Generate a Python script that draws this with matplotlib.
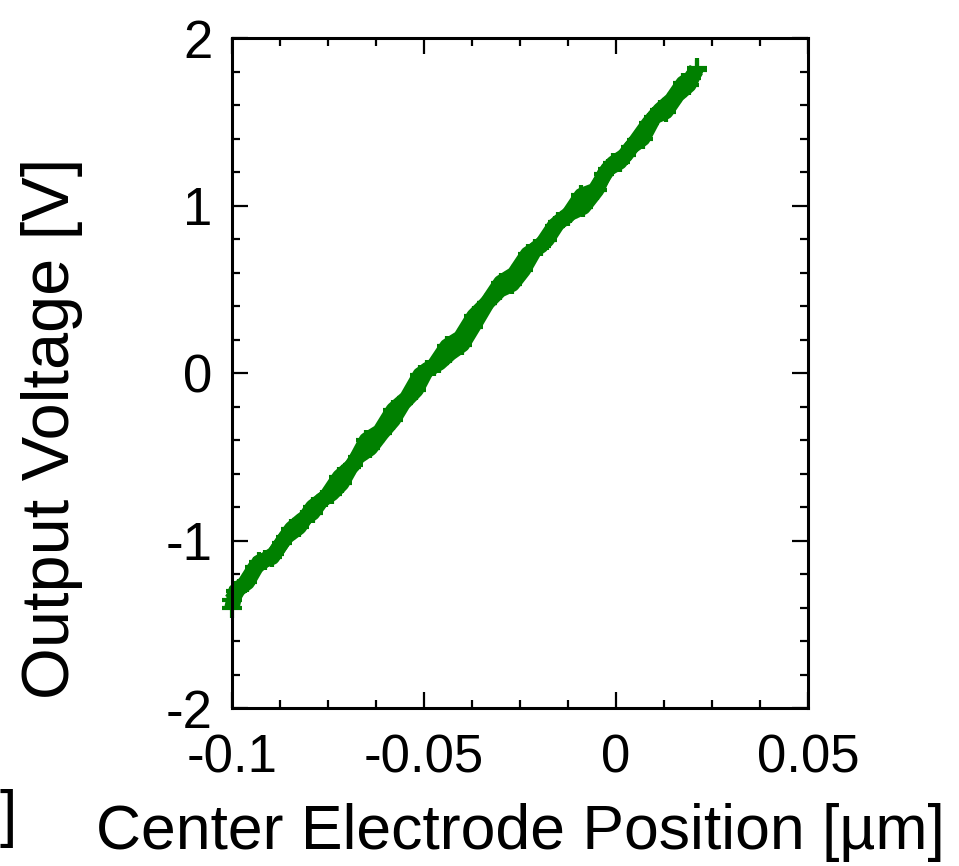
import matplotlib
matplotlib.use("Agg")
import matplotlib.pyplot as plt
from matplotlib.ticker import MultipleLocator

# electrode position [um] vs output voltage [V], sweep up
pos_up = [-0.1001, -0.0983, -0.0966, -0.0940, -0.0914, -0.0890, -0.0871, -0.0845,
          -0.0818, -0.0790, -0.0766, -0.0740, -0.0714, -0.0690, -0.0672, -0.0640,
          -0.0610, -0.0580, -0.0554, -0.0520, -0.0493, -0.0460, -0.0432, -0.0400,
          -0.0372, -0.0335, -0.0302, -0.0270, -0.0241, -0.0210, -0.0180, -0.0150,
          -0.0120, -0.0085, -0.0050, -0.0030, -0.0007, 0.0025, 0.0054, 0.0085,
          0.0115, 0.0145, 0.0175, 0.0195, 0.0210]
volt_up = [-1.355, -1.290, -1.254, -1.160, -1.116, -1.080, -1.017, -0.930,
           -0.878, -0.835, -0.758, -0.720, -0.659, -0.560, -0.500, -0.450,
           -0.360, -0.280, -0.181, -0.100, 0.018, 0.060, 0.118, 0.170,
           0.276, 0.420, 0.496, 0.530, 0.615, 0.740, 0.794, 0.900,
           0.953, 0.990, 1.093, 1.190, 1.252, 1.300, 1.391, 1.490,
           1.570, 1.630, 1.730, 1.760, 1.809]

# sweep back down
pos_dn = [0.0210, 0.0190, 0.0160, 0.0130, 0.0100, 0.0070, 0.0040, 0.0010,
          -0.0020, -0.0055, -0.0090, -0.0125, -0.0160, -0.0195, -0.0230, -0.0265,
          -0.0300, -0.0335, -0.0370, -0.0405, -0.0440, -0.0475, -0.0510, -0.0545,
          -0.0580, -0.0615, -0.0650, -0.0685, -0.0720, -0.0755, -0.0790, -0.0825,
          -0.0860, -0.0895, -0.0930, -0.0960, -0.0990, -0.1000]
volt_dn = [1.820, 1.720, 1.660, 1.560, 1.530, 1.400, 1.350, 1.260,
           1.220, 1.090, 1.060, 0.940, 0.880, 0.760, 0.710, 0.590,
           0.540, 0.420, 0.340, 0.210, 0.160, 0.040, -0.010, -0.150,
           -0.220, -0.350, -0.400, -0.550, -0.620, -0.740, -0.800, -0.920,
           -0.980, -1.100, -1.130, -1.250, -1.300, -1.400]

plt.rcParams['font.family'] = ['Liberation Sans', 'DejaVu Sans']

fig = plt.figure(figsize=(9.59, 8.66), dpi=100)
ax = fig.add_axes([0.2419, 0.1824, 0.6006, 0.7737])

green = '#008000'
for xs, ys in [(pos_up, volt_up), (pos_dn, volt_dn)]:
    ax.plot(xs, ys, '-', color=green, lw=11, marker='+', ms=14, mew=3,
            solid_capstyle='butt', solid_joinstyle='round', clip_on=False)

ax.set_xlim(-0.1, 0.05)
ax.set_ylim(-2, 2)
ax.xaxis.set_major_locator(MultipleLocator(0.05))
ax.xaxis.set_minor_locator(MultipleLocator(0.0125))
ax.yaxis.set_major_locator(MultipleLocator(1))
ax.yaxis.set_minor_locator(MultipleLocator(0.2))
fmt = plt.FuncFormatter(lambda v, p: '%g' % round(v, 4))
ax.xaxis.set_major_formatter(fmt)
ax.yaxis.set_major_formatter(fmt)

ax.tick_params(which='both', direction='in', top=True, right=True, width=1.6,
               labelsize=38, pad=14)
ax.tick_params(axis='x', which='both', pad=18)
ax.tick_params(which='major', length=11.5)
ax.tick_params(which='minor', length=5.8)
for s in ax.spines.values():
    s.set_linewidth(2.2)

ax.set_xlabel('Center Electrode Position [µm]', fontsize=45)
ax.set_ylabel('Output Voltage [V]', fontsize=48)
ax.xaxis.set_label_coords(0.5, -0.142)
ax.yaxis.set_label_coords(-0.258, 0.418)

# clipped label from the neighbouring panel
fig.text(0.0, 0.036, ']', fontsize=45, ha='left', va='baseline')

fig.savefig('out.png', dpi=100)
